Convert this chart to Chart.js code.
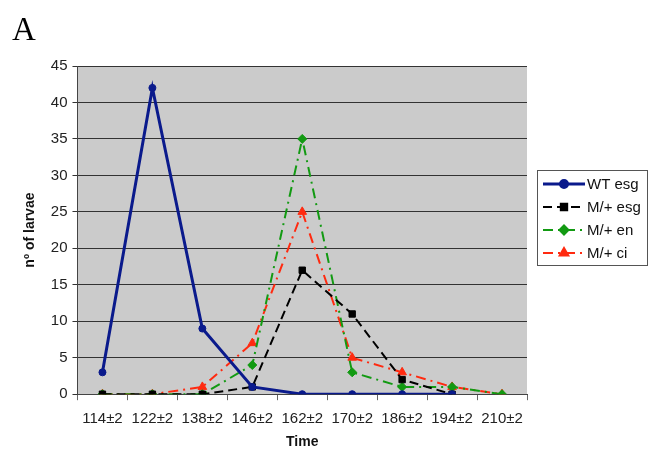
<!DOCTYPE html>
<html>
<head>
<meta charset="utf-8">
<script src="https://cdn.jsdelivr.net/npm/chart.js@4"></script>
<style>
  html, body { margin: 0; padding: 0; background: #fff; }
  #wrap { width: 652px; height: 451px; position: relative; }
</style>
</head>
<body>
<div id="wrap"><canvas id="chart"></canvas></div>
<script>
// Data
const timeLabels = ['114±2', '122±2', '138±2', '146±2', '162±2', '170±2', '186±2', '194±2', '210±2'];
const wtEsg  = [3, 42, 9, 1, 0, 0, 0, 0, null];
const mEsg   = [0, 0, 0, 1, 17, 11, 2, 0, null];
const mEn    = [0, 0, 0, 4, 35, 3, 1, 1, 0];
const mCi    = [0, 0, 1, 7, 25, 5, 3, 1, 0];
const yTicks = [0, 5, 10, 15, 20, 25, 30, 35, 40, 45];

const FONT = 'Arial, "Liberation Sans", sans-serif';

const series = [
  { label: 'WT esg',  data: wtEsg, color: '#0a1a8c', dash: [],            width: 3, point: 'circle',   r: 3.5 },
  { label: 'M/+ esg', data: mEsg,  color: '#000000', dash: [9, 5],        width: 2, point: 'rect',     r: 4.5 },
  { label: 'M/+ en',  data: mEn,   color: '#129a12', dash: [10, 5, 2, 5], width: 2, point: 'rectRot', r: 4.5 },
  { label: 'M/+ ci',  data: mCi,   color: '#ff2a10', dash: [10, 5, 2, 5], width: 2, point: 'triangle', r: 5 }
];

// grey plot background + panel letter + legend box
const decorations = {
  id: 'decorations',
  beforeDraw(chart) {
    const { ctx, chartArea: a } = chart;
    ctx.save();
    ctx.fillStyle = '#cbcbcb';
    ctx.fillRect(a.left, a.top, a.right - a.left, a.bottom - a.top);
    ctx.restore();
  },
  afterDraw(chart) {
    const { ctx } = chart;
    ctx.save();
    ctx.fillStyle = '#000';
    ctx.font = '33px "Liberation Serif", "Times New Roman", serif';
    ctx.textBaseline = 'alphabetic';
    ctx.fillText('A', 12, 40);

    // legend
    const lx = 537, ly = 170, lw = 110, lh = 95;
    ctx.fillStyle = '#fff';
    ctx.fillRect(lx, ly, lw, lh);
    ctx.strokeStyle = '#555';
    ctx.lineWidth = 1;
    ctx.strokeRect(lx + 0.5, ly + 0.5, lw, lh);
    ctx.font = '15px ' + FONT;
    ctx.textBaseline = 'middle';
    series.forEach((s, i) => {
      const y = ly + 14 + i * 23;
      ctx.strokeStyle = s.color;
      ctx.lineWidth = s.width;
      ctx.setLineDash(s.dash);
      ctx.beginPath();
      ctx.moveTo(lx + 6, y);
      ctx.lineTo(lx + 48, y);
      ctx.stroke();
      ctx.setLineDash([]);
      ctx.fillStyle = s.color;
      ctx.strokeStyle = s.color;
      Chart.helpers.drawPoint(ctx, { pointStyle: s.point, radius: s.r, borderWidth: 1 }, lx + 27, y);
      ctx.fillStyle = '#111';
      ctx.fillText(s.label, lx + 50, y + 1);
    });
    ctx.restore();
  }
};

new Chart(document.getElementById('chart'), {
  type: 'line',
  data: {
    labels: timeLabels,
    datasets: series.map(s => ({
      label: s.label,
      data: s.data,
      borderColor: s.color,
      backgroundColor: s.color,
      borderWidth: s.width,
      borderDash: s.dash,
      pointStyle: s.point,
      pointRadius: s.r,
      pointBorderWidth: 1,
      tension: 0,
      spanGaps: false
    }))
  },
  options: {
    responsive: true,
    maintainAspectRatio: false,
    animation: false,
    layout: { padding: { top: 66, right: 125, left: 18, bottom: 0 } },
    plugins: { legend: { display: false }, tooltip: { enabled: false } },
    scales: {
      x: {
        offset: true,
        grid: { display: true, drawOnChartArea: false, offset: true, color: '#666', tickLength: 6 },
        border: { color: '#444', width: 1 },
        ticks: { color: '#222', font: { family: FONT, size: 15 }, padding: 10, maxRotation: 0, autoSkip: false },
        title: { display: true, text: 'Time', color: '#111', font: { family: FONT, size: 14, weight: 'bold' }, padding: { top: -4, bottom: 0 } }
      },
      y: {
        min: 0,
        max: 45,
        afterBuildTicks: axis => { axis.ticks = yTicks.map(v => ({ value: v })); },
        grid: { color: '#333', lineWidth: 1, tickLength: 5, drawTicks: true },
        border: { color: '#444', width: 1 },
        ticks: { color: '#222', font: { family: FONT, size: 15 }, padding: 5 },
        title: { display: true, text: 'nº of larvae', color: '#111', font: { family: FONT, size: 14, weight: 'bold' }, padding: { bottom: 7 } }
      }
    }
  },
  plugins: [decorations]
});
</script>
</body>
</html>
